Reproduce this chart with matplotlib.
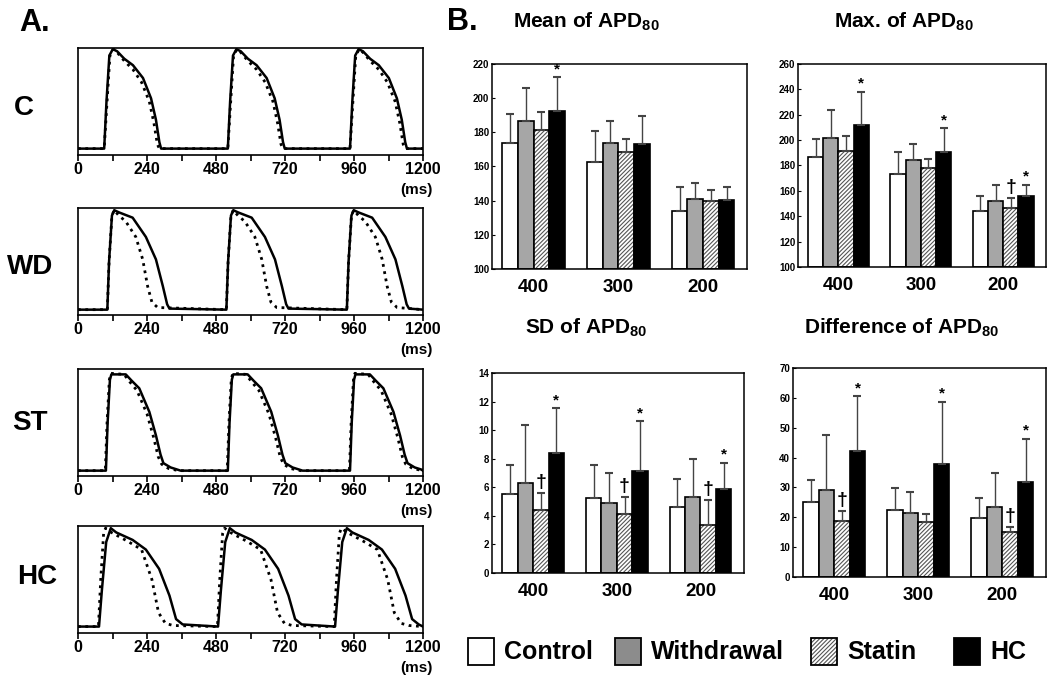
import numpy as np
import matplotlib
matplotlib.use('Agg')
import matplotlib.pyplot as plt
from matplotlib.patches import Rectangle

plt.rcParams['font.family'] = ['Liberation Sans', 'DejaVu Sans']
plt.rcParams['font.weight'] = 'bold'
plt.rcParams['mathtext.fontset'] = 'custom'
plt.rcParams['mathtext.rm'] = 'Liberation Sans'
plt.rcParams['mathtext.bf'] = 'Liberation Sans:bold'
plt.rcParams['hatch.linewidth'] = 0.8

# ---- action potential traces (one beat template, ms after upstroke; normalised amplitude) ----
panels = ['C', 'WD', 'ST', 'HC']
onsets_solid = {'C': [91, 521, 946], 'WD': [102, 516, 935], 'ST': [97, 521, 946], 'HC': [73, 487, 894]}
onsets_dot = {'C': [91, 521, 946], 'WD': [102, 516, 935], 'ST': [95, 519, 944], 'HC': [71, 485, 891]}
base = {'C': 0.06, 'WD': 0.05, 'ST': 0.05, 'HC': 0.06}

solid_t = {'C': [0, 8, 18, 30, 45, 70, 100, 135, 163, 180, 192, 198],
           'WD': [0, 6, 16, 24, 40, 88, 134, 169, 193, 208, 216],
           'ST': [0, 6, 14, 19, 69, 90, 116, 151, 174, 190, 200, 225, 260],
           'HC': [0, 10, 25, 41, 60, 117, 163, 209, 245, 268, 291]}
solid_v = {'C': [0.06, 0.5, 0.93, 0.99, 0.97, 0.9, 0.84, 0.72, 0.53, 0.33, 0.12, 0.06],
           'WD': [0.05, 0.5, 0.93, 0.98, 0.96, 0.91, 0.73, 0.52, 0.27, 0.1, 0.06],
           'ST': [0.05, 0.5, 0.9, 0.95, 0.95, 0.89, 0.82, 0.6, 0.38, 0.2, 0.12, 0.08, 0.05],
           'HC': [0.06, 0.4, 0.85, 0.98, 0.94, 0.87, 0.78, 0.6, 0.35, 0.13, 0.08]}
dot_t = {'C': [0, 10, 20, 32, 45, 70, 100, 130, 157, 173, 185, 192],
         'WD': [0, 6, 16, 24, 40, 64, 99, 123, 140, 155, 175],
         'ST': [0, 6, 14, 19, 65, 85, 110, 145, 168, 184, 196, 220, 255],
         'HC': [0, 8, 18, 25, 45, 100, 150, 186, 209, 233, 260]}
dot_v = {'C': [0.06, 0.5, 0.93, 0.99, 0.96, 0.88, 0.8, 0.68, 0.5, 0.3, 0.1, 0.06],
         'WD': [0.05, 0.5, 0.93, 0.98, 0.93, 0.875, 0.73, 0.52, 0.27, 0.12, 0.07],
         'ST': [0.05, 0.5, 0.9, 0.96, 0.95, 0.88, 0.8, 0.58, 0.36, 0.18, 0.11, 0.07, 0.05],
         'HC': [0.06, 0.5, 0.93, 0.98, 0.94, 0.86, 0.78, 0.5, 0.19, 0.09, 0.07]}

# ---- bar chart data ----
rates = ['400', '300', '200']
groups = ['Control', 'Withdrawal', 'Statin', 'HC']
mean_val = [[173.6, 162.5, 134.1], [186.5, 173.6, 140.9], [181.2, 168.4, 139.7], [192.7, 173.0, 140.3]]
mean_top = [[190.8, 180.7, 147.7], [206.0, 186.5, 150.6], [191.6, 176.2, 146.0], [212.2, 189.4, 147.7]]
max_val = [[187.0, 173.5, 143.9], [201.6, 184.7, 152.3], [191.6, 177.8, 146.7], [212.3, 190.8, 155.8]]
max_top = [[200.8, 190.8, 155.8], [223.9, 196.6, 164.5], [203.5, 185.5, 154.0], [238.2, 209.3, 165.0]]
sd_val = [[5.55, 5.25, 4.59], [6.28, 4.89, 5.32], [4.4, 4.1, 3.39], [8.42, 7.13, 5.85]]
sd_top = [[7.57, 7.57, 6.6], [10.37, 7.0, 8.0], [5.62, 5.32, 5.11], [11.54, 10.62, 7.73]]
diff_val = [[25.0, 22.4, 19.6], [29.1, 21.4, 23.5], [18.9, 18.4, 15.2], [42.3, 37.7, 31.7]]
diff_top = [[32.5, 29.8, 26.4], [47.7, 28.6, 34.8], [22.0, 21.0, 16.6], [60.6, 58.7, 46.3]]
# significance marks: (group index, rate index, symbol)
mean_marks = [(3, 0, '*')]
max_marks = [(3, 0, '*'), (3, 1, '*'), (2, 2, '†'), (3, 2, '*')]
sd_marks = [(2, 0, '†'), (3, 0, '*'), (2, 1, '†'), (3, 1, '*'), (2, 2, '†'), (3, 2, '*')]
diff_marks = [(2, 0, '†'), (3, 0, '*'), (3, 1, '*'), (2, 2, '†'), (3, 2, '*')]

fig = plt.figure(figsize=(10.5, 6.77), dpi=100)

# ---- Panel A ----
trace_pos = {'C': 0.771, 'WD': 0.5347, 'ST': 0.2969, 'HC': 0.065}
label_xy = {'C': (0.023, 0.840), 'WD': (0.029, 0.605), 'ST': (0.028, 0.375), 'HC': (0.035, 0.148)}
for p in panels:
    ax = fig.add_axes([0.0743, trace_pos[p], 0.3286, 0.158])
    for tt, vv, ons, style in [(dot_t[p], dot_v[p], onsets_dot[p], ':'),
                               (solid_t[p], solid_v[p], onsets_solid[p], '-')]:
        x = [0]
        y = [base[p]]
        for o in ons:
            x += [o + t for t in tt]
            y += vv
        x.append(1200)
        y.append(base[p])
        ax.plot(x, y, color='black', linestyle=style, lw=1.8 if style == '-' else 2.0)
    ax.set_xlim(0, 1200)
    ax.set_ylim(0, 1.0)
    ax.set_yticks([])
    ax.set_xticks(np.arange(0, 1201, 240))
    ax.set_xticks(np.arange(0, 1201, 120), minor=True)
    ax.tick_params(axis='x', which='both', direction='out', length=4, width=1.2, labelsize=11.5, pad=1)
    for s in ax.spines.values():
        s.set_linewidth(1.2)
    ax.text(0.98, -0.33, '(ms)', transform=ax.transAxes, ha='center', va='center', fontsize=11)
    fig.text(label_xy[p][0], label_xy[p][1], p, ha='center', va='center', fontsize=20)

fig.text(0.033, 0.966, 'A.', ha='center', va='center', fontsize=22)
fig.text(0.440, 0.968, 'B.', ha='center', va='center', fontsize=22)

# ---- Panel B ----
bar_w = 0.185
face = ['white', '#a6a6a6', 'white', 'black']


def bar_chart(rect, vals, tops, marks, ylim, step):
    ax = fig.add_axes(rect)
    xs = np.arange(len(rates))
    for g in range(4):
        xg = xs + (g - 1.5) * bar_w
        v = np.array(vals[g])
        if g == 2:
            ax.bar(xg, v - ylim[0], bar_w, bottom=ylim[0], color='white', edgecolor='#555555',
                   hatch='////////', lw=0)
            ax.bar(xg, v - ylim[0], bar_w, bottom=ylim[0], fill=False, edgecolor='black', lw=1.2)
        else:
            ax.bar(xg, v - ylim[0], bar_w, bottom=ylim[0], color=face[g], edgecolor='black', lw=1.2)
        err = np.array(tops[g]) - v
        ax.errorbar(xg, v, yerr=[np.zeros(3), err], fmt='none', ecolor='#444444', elinewidth=1,
                    capsize=3, capthick=1.5)
    span = ylim[1] - ylim[0]
    for g, r, sym in marks:
        xg = r + (g - 1.5) * bar_w
        if sym == '*':
            ax.text(xg, tops[g][r] + span * 0.005, sym, ha='center', va='bottom', fontsize=11)
        else:
            ax.text(xg, tops[g][r] + span * 0.01, sym, ha='center', va='bottom', fontsize=14)
    ax.set_xlim(-0.49, 2.52)
    ax.set_ylim(*ylim)
    ax.set_yticks(np.arange(ylim[0], ylim[1] + step / 2, step))
    ax.tick_params(axis='y', direction='in', length=2, labelsize=7, pad=2)
    ax.set_xticks(xs)
    ax.set_xticklabels(rates)
    ax.tick_params(axis='x', length=0, labelsize=13.5, pad=7)
    for s in ax.spines.values():
        s.set_linewidth(1.1)
    return ax


bar_chart([0.4686, 0.6027, 0.2429, 0.3028], mean_val, mean_top, mean_marks, (100, 220), 20)
bar_chart([0.7600, 0.6056, 0.2362, 0.2999], max_val, max_top, max_marks, (100, 260), 20)
bar_chart([0.4686, 0.1536, 0.2400, 0.2954], sd_val, sd_top, sd_marks, (0, 14), 2)
bar_chart([0.7552, 0.1477, 0.2410, 0.3087], diff_val, diff_top, diff_marks, (0, 70), 10)

fig.text(0.558, 0.968, r'Mean of APD$_{\mathbf{80}}$', ha='center', va='center', fontsize=15)
fig.text(0.861, 0.968, r'Max. of APD$_{\mathbf{80}}$', ha='center', va='center', fontsize=15)
fig.text(0.558, 0.516, r'SD of APD$_{\mathbf{80}}$', ha='center', va='center', fontsize=15)
fig.text(0.859, 0.516, r'Difference of APD$_{\mathbf{80}}$', ha='center', va='center', fontsize=15)

# ---- legend (pixel layout overlay) ----
leg = fig.add_axes([0, 0, 1, 1])
leg.set_xlim(0, 1050)
leg.set_ylim(677, 0)
leg.axis('off')
leg_sq_x = [468, 615, 811, 954]
leg_fc = ['white', '#8c8c8c', 'white', 'black']
for i, g in enumerate(groups):
    if i == 2:
        leg.add_patch(Rectangle((leg_sq_x[i], 638), 26, 27, facecolor='white', edgecolor='#555555',
                                hatch='////////', lw=0))
        leg.add_patch(Rectangle((leg_sq_x[i], 638), 26, 27, fill=False, edgecolor='black', lw=1.3))
    else:
        leg.add_patch(Rectangle((leg_sq_x[i], 638), 26, 27, facecolor=leg_fc[i], edgecolor='black', lw=1.3))
    leg.text(leg_sq_x[i] + 36, 652, g, ha='left', va='center', fontsize=18)

fig.savefig('out.png', dpi=100)
